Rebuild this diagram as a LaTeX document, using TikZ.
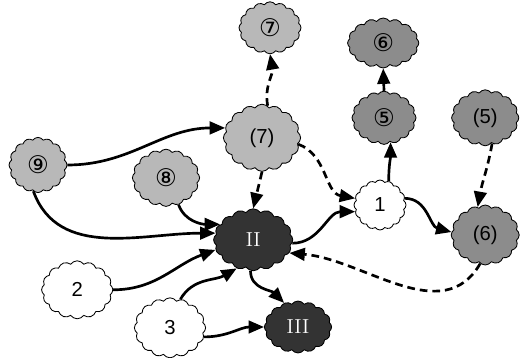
\documentclass[tikz,border=0pt]{standalone}
\usepackage{fontspec}
\usepackage{tikz}
\setsansfont{Liberation Sans}
\newfontfamily\circfont{DejaVu Sans}
\usetikzlibrary{
    arrows.meta,
    shapes.symbols
}
\definecolor{lightgr}{gray}{0.72}
\definecolor{midgr}{gray}{0.55}
\definecolor{darkgr}{gray}{0.2}
\tikzset{
    blob/.style={cloud, cloud puffs=16, cloud puff arc=110, cloud ignores aspect,
        draw=black, line width=0.6pt, inner sep=0pt, font=\sffamily\Large},
    lightblob/.style={blob, fill=lightgr},
    midblob/.style={blob, fill=midgr},
    darkblob/.style={blob, fill=darkgr, text=white, font=\rmfamily\Large},
    whiteblob/.style={blob, fill=white},
    link/.style={line width=1.9pt, -{Triangle[length=11pt,width=9pt]}},
    dashlink/.style={link, dash pattern=on 5.5pt off 3.5pt}
}
\newcommand{\circnum}[1]{{\circfont\LARGE #1}}

\begin{document}
\begin{tikzpicture}
    \useasboundingbox (0, 0) rectangle (13.175, 8.925);
    % clouds
    \node[lightblob, minimum width=1.55cm, minimum height=1.3cm] (c7) at (6.75, 8.23) {\circnum{⑦}};
    \node[midblob, minimum width=1.78cm, minimum height=1.25cm] (c6) at (9.58, 7.85) {\circnum{⑥}};
    \node[midblob, minimum width=1.6cm, minimum height=1.33cm] (c5) at (9.6, 5.98) {\circnum{⑤}};
    \node[midblob, minimum width=1.68cm, minimum height=1.4cm] (p5) at (12.13, 5.98) {(5)};
    \node[lightblob, minimum width=1.93cm, minimum height=1.68cm] (p7) at (6.55, 5.48) {(7)};
    \node[lightblob, minimum width=1.45cm, minimum height=1.38cm] (c9) at (0.95, 4.8) {\circnum{⑨}};
    \node[lightblob, minimum width=1.68cm, minimum height=1.43cm] (c8) at (4.15, 4.48) {\circnum{⑧}};
    \node[whiteblob, minimum width=1.3cm, minimum height=1.25cm] (one) at (9.5, 3.8) {1};
    \node[midblob, minimum width=1.7cm, minimum height=1.5cm] (p6) at (12.13, 3.05) {(6)};
    \node[darkblob, minimum width=1.98cm, minimum height=1.55cm] (two2) at (6.33, 2.93) {II};
    \node[whiteblob, minimum width=1.78cm, minimum height=1.45cm] (two) at (1.93, 1.68) {2};
    \node[whiteblob, minimum width=1.78cm, minimum height=1.5cm] (three) at (4.25, 0.73) {3};
    \node[darkblob, minimum width=1.68cm, minimum height=1.3cm] (three3) at (7.45, 0.75) {III};
    % solid links
    \draw[link] (c9.east) to[out=0, in=180] (p7.165);
    \draw[link] (c9.-100) to[out=-70, in=180] (two2.170);
    \draw[link] (c8.-65) to[out=-70, in=180] (two2.155);
    \draw[link] (two2.-5) to[out=0, in=180] (one.195);
    \draw[link] (one.70) to[out=90, in=-90] (c5.-75);
    \draw[link] (c5.north) -- (c6.south);
    \draw[link] (one.15) to[out=0, in=165] (p6.175);
    \draw[link] (two.east) to[out=0, in=200] (two2.195);
    \draw[link] (three.70) to[out=60, in=210] (two2.-120);
    \draw[link] (two2.-95) to[out=-90, in=135] (three3.120);
    \draw[link] (three.-15) to[out=0, in=180] (three3.west);
    % dashed links
    \draw[dashlink] (p7.80) to[out=100, in=-80] (c7.south);
    \draw[dashlink] (p7.south) -- (two2.north);
    \draw[dashlink] (p7.-10) to[out=-20, in=170] (one.165);
    \draw[dashlink] (p5.-75) to[out=-100, in=80] (p6.105);
    \draw[dashlink] (p6.-100) to[out=-120, in=-5] (two2.-20);
\end{tikzpicture}
\end{document}
